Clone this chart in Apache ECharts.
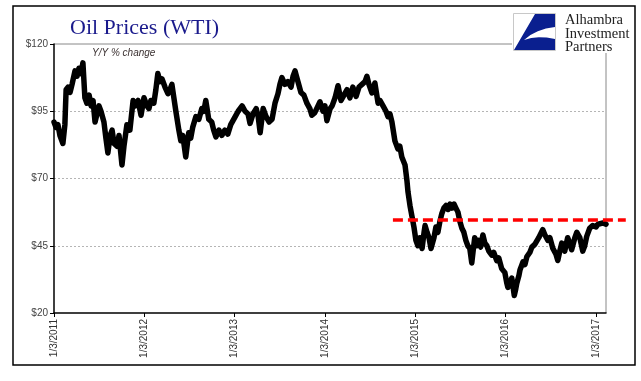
<!DOCTYPE html>
<html>
<head>
<meta charset="utf-8">
<script src="https://cdn.jsdelivr.net/npm/echarts@6/dist/echarts.min.js"></script>
<style>
html,body{margin:0;padding:0;background:#fff;}
#chart{width:641px;height:381px;}
</style>
</head>
<body>
<div id="chart"></div>
<script>
// ---- data ----
var dates = [
'2011-01-03','2011-01-11','2011-01-19','2011-01-27','2011-02-08','2011-02-16','2011-02-21','2011-03-01','2011-03-09','2011-03-17',
'2011-03-29','2011-04-06','2011-04-14','2011-04-22','2011-04-30','2011-05-08','2011-05-16','2011-05-25','2011-06-02','2011-06-10',
'2011-06-18','2011-06-26','2011-07-04','2011-07-12','2011-07-24','2011-08-01','2011-08-09','2011-08-18','2011-08-26','2011-09-03',
'2011-09-15','2011-09-23','2011-10-05','2011-10-13','2011-10-25','2011-11-06','2011-11-19','2011-11-27','2011-12-09','2011-12-21',
'2012-01-02','2012-01-14','2012-01-22','2012-01-30','2012-02-11','2012-02-19','2012-02-27','2012-03-07','2012-03-15','2012-03-27',
'2012-04-08','2012-04-16','2012-04-24','2012-05-02','2012-05-10','2012-05-22','2012-05-30','2012-06-07','2012-06-19','2012-07-01',
'2012-07-09','2012-07-17','2012-07-30','2012-08-11','2012-08-23','2012-08-31','2012-09-08','2012-09-20','2012-10-02','2012-10-10',
'2012-10-19','2012-10-31','2012-11-12','2012-11-24','2012-12-06','2012-12-18',
'2013-01-05','2013-01-17','2013-02-02','2013-02-14','2013-02-26','2013-03-06','2013-03-18','2013-03-31','2013-04-08','2013-04-16',
'2013-04-28','2013-05-10','2013-05-22','2013-06-03','2013-06-15','2013-06-27','2013-07-05','2013-07-13','2013-07-25','2013-08-06',
'2013-08-19','2013-08-27','2013-09-04','2013-09-16','2013-09-28','2013-10-10','2013-10-22','2013-11-03','2013-11-11','2013-11-23',
'2013-12-06','2013-12-14','2013-12-26',
'2014-01-03','2014-01-11','2014-01-24','2014-02-01','2014-02-13','2014-02-25','2014-03-09','2014-03-21','2014-04-02','2014-04-14',
'2014-04-26','2014-05-09','2014-05-21','2014-06-02','2014-06-14','2014-06-22','2014-06-30','2014-07-12','2014-07-24','2014-08-06',
'2014-08-14','2014-08-26','2014-09-07','2014-09-15','2014-09-23','2014-10-01','2014-10-13','2014-10-25','2014-11-02','2014-11-10',
'2014-11-23','2014-12-01','2014-12-05','2014-12-13','2014-12-21','2014-12-29',
'2015-01-06','2015-01-14','2015-01-22','2015-01-31','2015-02-08','2015-02-12','2015-02-20','2015-02-28','2015-03-08','2015-03-12',
'2015-03-20','2015-03-28','2015-04-05','2015-04-13','2015-04-21','2015-04-29','2015-05-08','2015-05-16','2015-05-24','2015-06-01',
'2015-06-09','2015-06-17','2015-06-25','2015-07-03','2015-07-11','2015-07-19','2015-07-27','2015-08-04','2015-08-12','2015-08-20',
'2015-08-28','2015-09-01','2015-09-09','2015-09-17','2015-09-25','2015-10-04','2015-10-12','2015-10-20','2015-10-28','2015-11-09',
'2015-11-17','2015-11-29','2015-12-07','2015-12-19',
'2016-01-01','2016-01-09','2016-01-13','2016-01-21','2016-01-29','2016-02-08','2016-02-14','2016-02-18','2016-02-27','2016-03-02',
'2016-03-10','2016-03-14','2016-03-22','2016-03-30','2016-04-11','2016-04-19','2016-05-01','2016-05-09','2016-05-17','2016-05-25',
'2016-06-02','2016-06-11','2016-06-23','2016-07-01','2016-07-13','2016-07-25','2016-08-02','2016-08-10','2016-08-18','2016-08-30',
'2016-09-11','2016-09-19','2016-09-27','2016-10-10','2016-10-18','2016-10-30','2016-11-11','2016-11-19','2016-11-27','2016-12-09',
'2016-12-21',
'2017-01-04','2017-01-12','2017-01-20','2017-02-01','2017-02-13'
];
var prices = [
91,89,90,86,83,90,103,104,102,105,
110,108,111,109,113,100,98,101,97,99,
91,94,97,95,91,85,79.5,86,88,83,
82,86,75,82,90,88,99,97,99,93.5,
100,97,96,99,98,103,109,106,107,104,
101.5,103,105,100,95,88,84,86,78,87,
85,89,93,92,96,95,99,92,91,88,
85.5,88,86,88,86.5,90,
93,95,97,95,94,90.5,94,96,93,87,
96,93,91,92,98,101.5,105,107.5,105,106,
104,108,110,106,102,101,98,96,93.5,94.5,
97,98.5,95,
97,91.5,96,97,100,104.5,99,101,103,100,
104,100.5,104,105,106,108,105,101.8,105.5,98,
99,97,95,93,94,91,84,81,82,78,
75,69,65,60,56,52,
47,45,48,44,50,52.5,50,48,44,43.5,
48,52,50,54,57,59,60,58.5,60.5,59,
60.5,59,57.5,54,51.5,50,47,45,44,38.6,
45,48,45,47,44.5,49,46,45,43,41.5,
42.5,39.5,40.5,36.5,
35,31,29.5,31,33,26.5,29,31,34,36,
38,39,38,41,42.5,44.5,45.5,46,48,49.5,
51,49,47,48,44,42,39.5,43,46,43,
48,46,43.5,48,50,48,43,45,48.5,51.5,
52.5,
52,53,52.5,53.5,53
];
var xStart = '2011-01-03';
var xEnd = '2017-02-13';
var labelDates = ['2011-01-03', '2012-01-03', '2013-01-03', '2014-01-03', '2015-01-03', '2016-01-03', '2017-01-03'];
var refLevel = 54.6;
var refStart = '2014-10-05';
var refEnd = '2017-05-04';
var titleText = 'Oil Prices (WTI)';
var noteText = 'Y/Y % change';
var logoLines = ['Alhambra', 'Investment', 'Partners'];

// ---- chart ----
function ts(s) { var p = s.split('-'); return new Date(+p[0], +p[1] - 1, +p[2]).getTime(); }
var seriesData = dates.map(function (d, i) { return [ts(d), prices[i]]; });
var labelTimes = labelDates.map(ts);

var chart = echarts.init(document.getElementById('chart'), null, {renderer: 'canvas'});
var baseGraphics = [
  {id: 'frame', type: 'rect', shape: {x: 13, y: 6, width: 622, height: 359}, style: {fill: 'none', stroke: '#000', lineWidth: 1.5}, silent: true},
  {id: 'topb', type: 'line', shape: {x1: 54, y1: 44, x2: 512, y2: 44}, style: {stroke: '#888', lineWidth: 1}},
  {id: 'rightb', type: 'line', shape: {x1: 606, y1: 53, x2: 606, y2: 313}, style: {stroke: '#888', lineWidth: 1}},
  {id: 'title', type: 'text', x: 70, y: 17, style: {text: titleText, font: '22px "Liberation Serif"', fill: '#1a1a8c'}},
  {id: 'note', type: 'text', x: 92, y: 48, style: {text: noteText, font: 'italic 10px "Liberation Sans"', fill: '#3a3030'}},
  {id: 'logobox', type: 'rect', shape: {x: 513.5, y: 13.5, width: 42, height: 37}, style: {fill: '#fff', stroke: '#c8c8c8', lineWidth: 1}},
  {id: 'logoshape', type: 'polygon', shape: {points: [[535,14],[555,14],[555,27],[545.9,28.6],[537.8,31.3],[530.4,35.1],[524,40],[531.2,38.1],[538.8,37.3],[546.7,37.6],[555,39],[555,50],[514,50]]}, style: {fill: '#0a1f8f'}},
  {id: 'l1', type: 'text', x: 565, y: 13, style: {text: logoLines[0], font: '14.5px "Liberation Serif"', fill: '#222'}},
  {id: 'l2', type: 'text', x: 565, y: 26.5, style: {text: logoLines[1], font: '14.5px "Liberation Serif"', fill: '#222'}},
  {id: 'l3', type: 'text', x: 565, y: 40, style: {text: logoLines[2], font: '14.5px "Liberation Serif"', fill: '#222'}}
];
var option = {
  animation: false,
  backgroundColor: '#fff',
  grid: {left: 54, right: 35, top: 44, bottom: 68, containLabel: false},
  xAxis: {
    type: 'value',
    min: ts(xStart),
    max: ts(xEnd),
    axisLine: {show: true, onZero: false, lineStyle: {color: '#000', width: 1.5}},
    axisTick: {show: true, customValues: labelTimes, length: 4, lineStyle: {color: '#000', width: 1}},
    axisLabel: {
      show: true,
      customValues: labelTimes,
      rotate: 90,
      fontFamily: 'Liberation Sans',
      fontSize: 10,
      color: '#333',
      margin: 6,
      formatter: function (v) {
        var d = new Date(v);
        return (d.getMonth() + 1) + '/' + d.getDate() + '/' + d.getFullYear();
      }
    },
    splitLine: {show: false}
  },
  yAxis: {
    type: 'value',
    min: 20,
    max: 120,
    interval: 25,
    axisLine: {show: true, lineStyle: {color: '#000', width: 1.5}},
    axisTick: {show: true, inside: false, length: 4, lineStyle: {color: '#000'}},
    axisLabel: {
      fontFamily: 'Liberation Sans',
      fontSize: 10,
      color: '#444',
      margin: 6,
      formatter: function (v) { return '$' + v; }
    },
    splitLine: {
      show: true,
      lineStyle: {color: ['#fff', '#b5b5b5', '#b5b5b5', '#b5b5b5', 'rgba(0,0,0,0)'], type: [2, 2], width: 1}
    }
  },
  series: [
    {
      type: 'line',
      data: seriesData,
      showSymbol: false,
      lineStyle: {color: '#000', width: 5.5, join: 'round', cap: 'round'},
      z: 3
    }
  ],
  graphic: baseGraphics
};
chart.setOption(option);

// reference level line: positioned through the chart's own scales, extends past the plot edge
var p1 = chart.convertToPixel({gridIndex: 0}, [ts(refStart), refLevel]);
var p2 = chart.convertToPixel({gridIndex: 0}, [ts(refEnd), refLevel]);
chart.setOption({
  graphic: baseGraphics.concat([
    {id: 'refline', type: 'line', z: 100, shape: {x1: p1[0], y1: p1[1], x2: p2[0], y2: p2[1]},
     style: {stroke: '#ff0000', lineWidth: 3.5, lineDash: [10, 5]}}
  ])
});
</script>
</body>
</html>
